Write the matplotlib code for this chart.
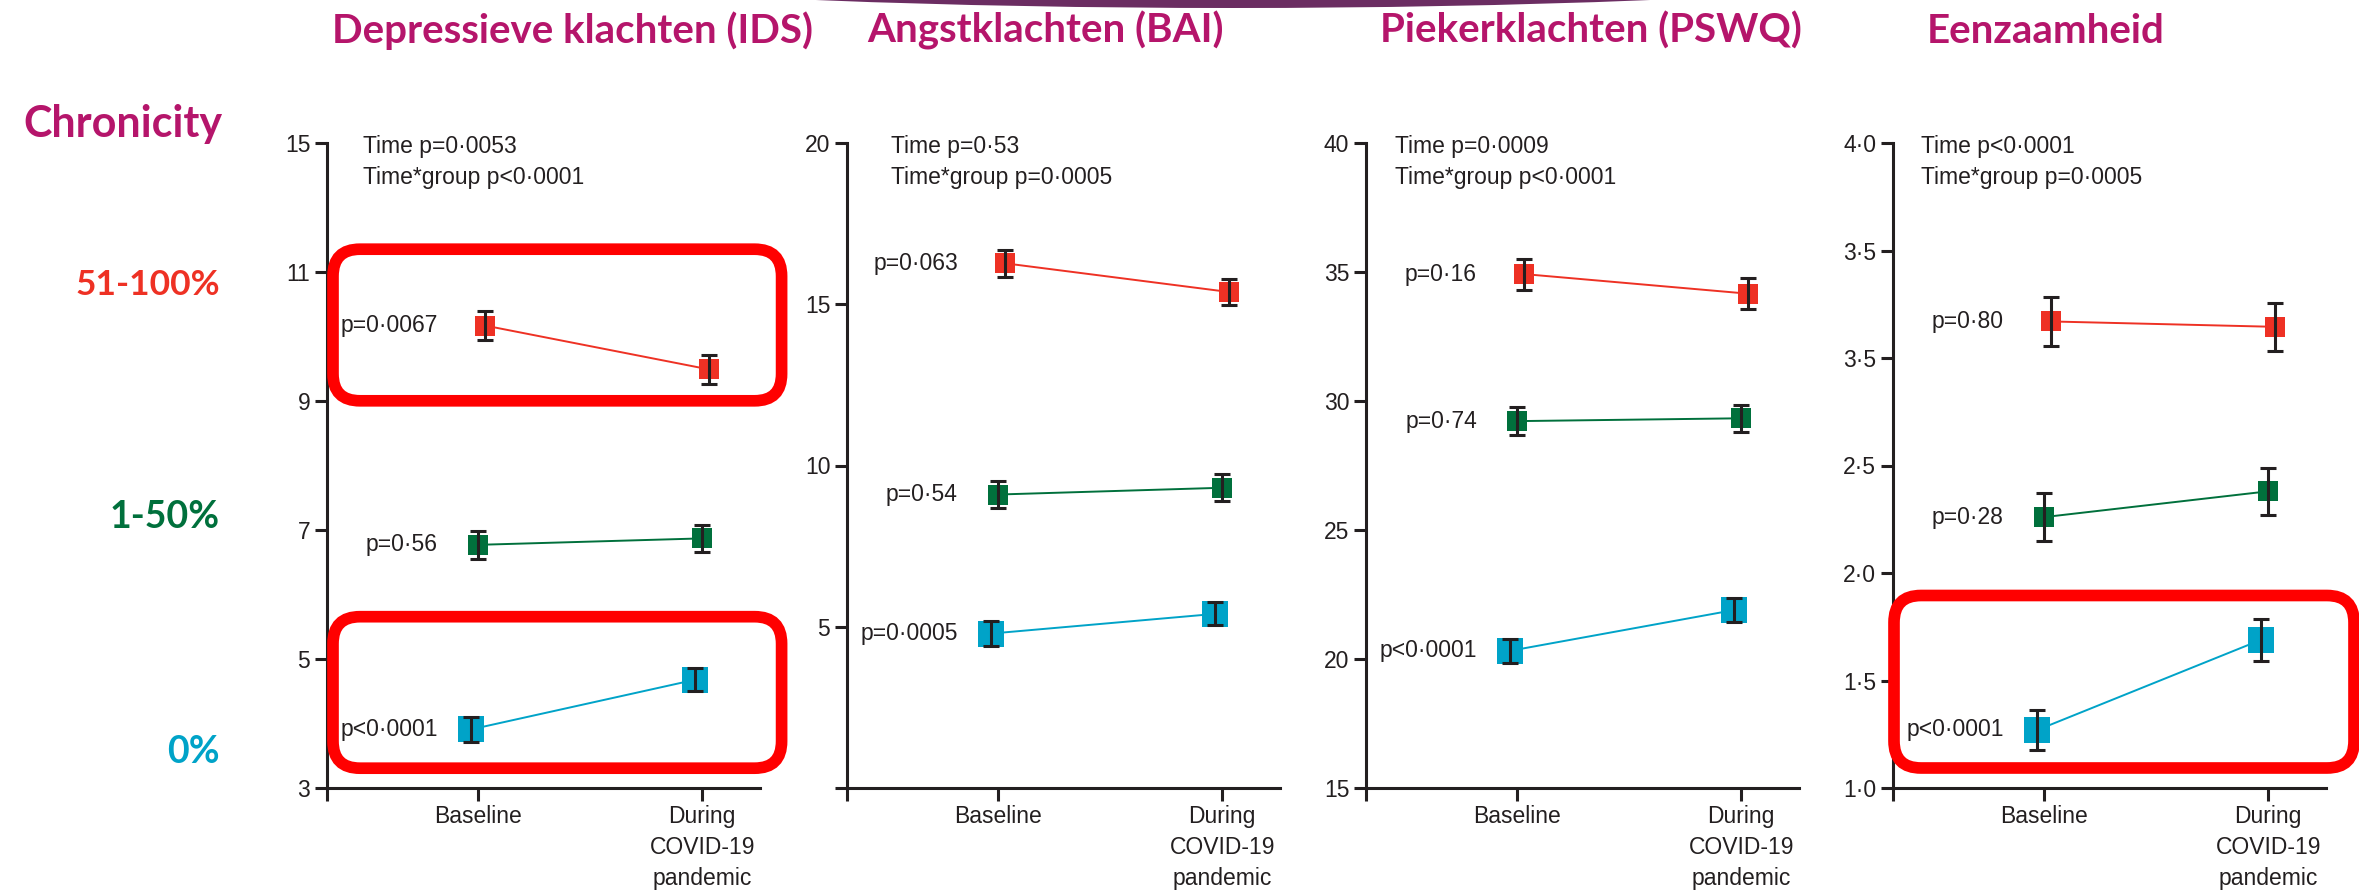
import matplotlib
matplotlib.use("Agg")
import matplotlib.pyplot as plt
from matplotlib.patches import FancyBboxPatch, Ellipse
import numpy as np

plt.rcParams.update({
    "font.family": ["Liberation Sans", "DejaVu Sans"],
    "font.size": 16.5,
    "text.color": "#231f20",
    "axes.edgecolor": "#231f20",
})

INK = "#231f20"
MAGENTA = "#b5156b"
GROUP_COLORS = ["#ee3124", "#00703c", "#00a3c8"]
HEAD_FONT = ["Lato", "DejaVu Sans"]

# ---- data -------------------------------------------------------------
TIMEPOINTS = ["Baseline", "During\nCOVID-19\npandemic"]
GROUPS = ["51-100%", "1-50%", "0%"]
TITLES = ["Depressieve klachten (IDS)", "Angstklachten (BAI)",
          "Piekerklachten (PSWQ)", "Eenzaamheid"]

# rows: 51-100%, 1-50%, 0% ; columns: baseline, during pandemic
IDS_MEAN = [[10.17, 9.49], [6.77, 6.87], [3.91, 4.68]]
IDS_ERR = [[0.23, 0.23], [0.22, 0.21], [0.19, 0.18]]
BAI_MEAN = [[16.27, 15.38], [9.10, 9.31], [4.79, 5.40]]
BAI_ERR = [[0.41, 0.41], [0.43, 0.42], [0.38, 0.36]]
PSWQ_MEAN = [[34.92, 34.16], [29.22, 29.33], [20.32, 21.90]]
PSWQ_ERR = [[0.60, 0.60], [0.55, 0.53], [0.47, 0.47]]
LONELY_MEAN = [[3.17, 3.145], [2.26, 2.38], [1.27, 1.69]]
LONELY_ERR = [[0.113, 0.113], [0.11, 0.11], [0.095, 0.097]]

GROUP_P = [["p=0·0067", "p=0·56", "p<0·0001"],
           ["p=0·063", "p=0·54", "p=0·0005"],
           ["p=0·16", "p=0·74", "p<0·0001"],
           ["p=0·80", "p=0·28", "p<0·0001"]]
TIME_P = ["Time p=0·0053", "Time p=0·53", "Time p=0·0009", "Time p<0·0001"]
INTERACTION_P = ["Time*group p<0·0001", "Time*group p=0·0005",
                 "Time*group p<0·0001", "Time*group p=0·0005"]

YTICKS = [[3, 5, 7, 9, 11, 15],
          [0, 5, 10, 15, 20],
          [15, 20, 25, 30, 35, 40],
          [1.0, 1.5, 2.0, 2.5, 3.0, 3.5, 4.0]]
YTICKLABELS = [["3", "5", "7", "9", "11", "15"],
               ["", "5", "10", "15", "20"],
               ["15", "20", "25", "30", "35", "40"],
               ["1·0", "1·5", "2·0", "2·5", "3·5", "3·5", "4·0"]]

MEANS = [IDS_MEAN, BAI_MEAN, PSWQ_MEAN, LONELY_MEAN]
ERRS = [IDS_ERR, BAI_ERR, PSWQ_ERR, LONELY_ERR]

# ---- layout (pixels, figure is 2359 x 890 at 100 dpi) -----------------
W, H = 2359, 890
AX_LEFT = [327, 847, 1366, 1893]
AX_WIDTH = 433
AX_TOP, AX_BOTTOM = 143, 788
XLIM = (-0.675, 1.258)
TEXT_X = [0.084, 0.102, 0.067, 0.064]
TITLE_X = [572, 1045, 1591, 2046]
DODGE = [0.03, 0.0, -0.03]
MARKER_SIZE = [14.5, 14.5, 18.5]


def ids_forward(v):
    v = np.asarray(v, dtype=float)
    return np.where(v <= 11, v, 11 + (v - 11) / 2)


def ids_inverse(u):
    u = np.asarray(u, dtype=float)
    return np.where(u <= 11, u, 11 + (u - 11) * 2)


fig = plt.figure(figsize=(W / 100, H / 100), dpi=100)

for i in range(4):
    ax = fig.add_axes([AX_LEFT[i] / W, (H - AX_BOTTOM) / H,
                       AX_WIDTH / W, (AX_BOTTOM - AX_TOP) / H])
    if i == 0:
        ax.set_yscale("function", functions=(ids_forward, ids_inverse))

    x = np.arange(len(TIMEPOINTS))
    for g in range(len(GROUPS)):
        xs = x + DODGE[g]
        m = MEANS[i][g]
        ax.plot(xs, m, "-", color=GROUP_COLORS[g], lw=1.4, zorder=2)
        ax.plot(xs, m, "s", color=GROUP_COLORS[g], ms=MARKER_SIZE[g],
                mew=0, zorder=3)
        ax.errorbar(xs, m, yerr=ERRS[i][g], fmt="none", ecolor=INK,
                    elinewidth=2.2, capsize=5.5, capthick=2.2, zorder=4)
        ax.text(-0.18, m[0], GROUP_P[i][g], ha="right", va="center",
                fontsize=16.5)

    ax.set_xlim(*XLIM)
    ax.set_ylim(YTICKS[i][0], YTICKS[i][-1])
    ax.set_xticks([XLIM[0], 0, 1])
    ax.set_xticklabels([""] + TIMEPOINTS)
    for lbl in ax.get_xticklabels():
        lbl.set_linespacing(1.45)
    ax.set_yticks(YTICKS[i])
    ax.set_yticklabels(YTICKLABELS[i])
    ax.yaxis.set_minor_locator(matplotlib.ticker.NullLocator())

    for side in ("top", "right"):
        ax.spines[side].set_visible(False)
    for side in ("left", "bottom"):
        ax.spines[side].set_linewidth(2.2)
    ax.tick_params(direction="out", length=9, width=2.2, colors=INK,
                   labelsize=16.5, pad=3)

    ax.text(TEXT_X[i], 0.995, TIME_P[i], transform=ax.transAxes,
            ha="left", va="center", fontsize=16.5)
    ax.text(TEXT_X[i], 0.947, INTERACTION_P[i], transform=ax.transAxes,
            ha="left", va="center", fontsize=16.5)

    fig.text(TITLE_X[i] / W, 1 - 43 / H, TITLES[i], ha="center",
             va="baseline", fontsize=29, fontweight="bold", color=MAGENTA,
             family=HEAD_FONT)

# row labels on the left
fig.text(222 / W, 1 - 137 / H, "Chronicity", ha="right", va="baseline",
         fontsize=31, fontweight="bold", color=MAGENTA, family=HEAD_FONT)
for label, color, base, size in zip(GROUPS, GROUP_COLORS, [295, 528, 763],
                                    [25.5, 27, 27]):
    fig.text(220 / W, 1 - base / H, label, ha="right", va="baseline",
             fontsize=size, fontweight="bold", color=color, family=HEAD_FONT)

# highlight frames (inches from bottom-left)
inch = fig.dpi_scale_trans
for (x0, y0, w, h) in [(3.33, 4.892, 4.486, 1.516),
                       (3.33, 1.218, 4.486, 1.515),
                       (18.94, 1.22, 4.60, 1.725)]:
    fig.patches.append(FancyBboxPatch(
        (x0, y0), w, h, boxstyle="round,pad=0,rounding_size=0.27",
        transform=inch, fill=False, edgecolor="#ff0000", linewidth=8.4,
        zorder=10))

# slide ribbon at the top edge
fig.patches.append(Ellipse((12.33, 9.82), 21.4, 2.0, transform=inch,
                           facecolor="#6b2d62", edgecolor="none", zorder=5))

fig.savefig("out.png", dpi=100)
